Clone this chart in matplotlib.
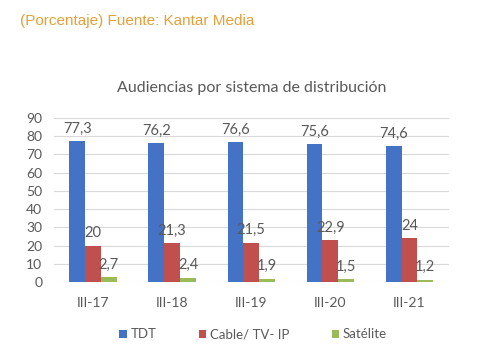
import numpy as np
import matplotlib.pyplot as plt

# Data
categories = ["III-17", "III-18", "III-19", "III-20", "III-21"]
tdt = [77.3, 76.2, 76.6, 75.6, 74.6]
cable = [20, 21.3, 21.5, 22.9, 24]
satelite = [2.7, 2.4, 1.9, 1.5, 1.2]
series_names = ["TDT", "Cable/ TV- IP", "Satélite"]
colors = ["#4472C4", "#C0504D", "#9BBB59"]

plt.rcParams['font.family'] = ['Lato', 'DejaVu Sans']

fig = plt.figure(figsize=(5, 3.5), dpi=100)
ax = fig.add_axes([0.107, 0.194, 0.791, 0.469])

x = np.arange(len(categories))
w = 0.2
txt = "#595959"

for i, (vals, name, c) in enumerate(zip([tdt, cable, satelite], series_names, colors)):
    bars = ax.bar(x + (i - 1) * w, vals, w, color=c, label=name, zorder=3)
    for b, v in zip(bars, vals):
        lab = f"{v:g}".replace(".", ",")
        ax.annotate(lab, (b.get_x() + b.get_width() / 2, v), xytext=(0, 4),
                    textcoords="offset points", ha="center", va="bottom",
                    fontsize=10.5, color=txt)

ax.set_xlim(-0.5, len(categories) - 0.5)
ax.set_ylim(0, 90)
ax.set_yticks(range(0, 91, 10))
ax.set_xticks(x)
ax.set_xticklabels(categories)
ax.tick_params(length=0, labelsize=10, colors=txt, pad=8)
ax.tick_params(axis="x", pad=11)
ax.grid(axis="y", color="#D9D9D9", linewidth=0.8, zorder=0)
for s in ax.spines.values():
    s.set_visible(False)

ax.set_title("Audiencias por sistema de distribución", fontsize=11.5, color=txt, pad=19)

fig.text(0.04, 0.93, "(Porcentaje) Fuente: Kantar Media", fontsize=11, color="#E3A03A",
         family="Liberation Sans")

ax.legend(loc="upper center", bbox_to_anchor=(0.505, -0.21), ncol=3, frameon=False,
          fontsize=9.5, labelcolor=txt, handlelength=0.55, handleheight=0.55,
          handletextpad=0.3, columnspacing=3.2)

fig.savefig("out.png", dpi=100)
